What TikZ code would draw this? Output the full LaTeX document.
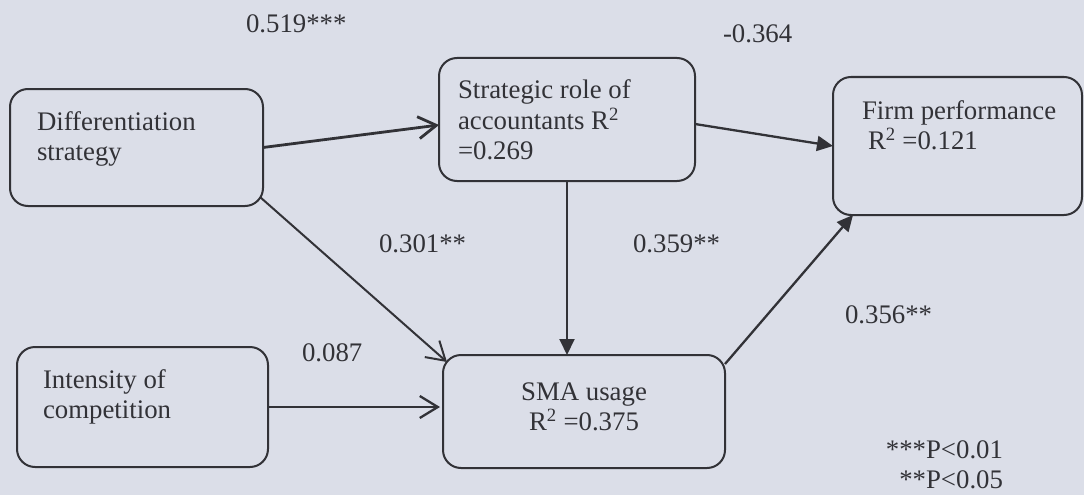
\documentclass[tikz,border=0pt]{standalone}
\usepackage{fontspec}
\setmainfont{Liberation Serif}
\usetikzlibrary{arrows.meta,calc}
\definecolor{bg}{RGB}{219,222,232}
\definecolor{ink}{RGB}{50,50,55}
\begin{document}
\begin{tikzpicture}[x=1pt,y=-1pt,
  box/.style={draw=ink, line width=2pt, rounded corners=18pt, inner sep=0pt, outer sep=0pt},
  txt/.style={text=ink, font=\fontsize{26.8}{30}\selectfont, inner sep=0pt, outer sep=0pt},
  openarr/.style={draw=ink, line width=2.3pt, -{Straight Barb[length=18pt,width=22pt]}},
  fillarr/.style={draw=ink, line width=2.3pt, -{Triangle[length=16pt,width=15pt]}},
]
\fill[bg] (0,0) rectangle (1084,495);
\useasboundingbox (0,0) rectangle (1084,495);

% boxes
\node[box, minimum width=253pt, minimum height=117pt] (diff) at (136.5,147.5) {};
\node[box, minimum width=256pt, minimum height=123pt] (strat) at (567,119.5) {};
\node[box, minimum width=249pt, minimum height=138pt] (firm) at (957.5,146) {};
\node[box, minimum width=251pt, minimum height=120pt] (intens) at (142.5,407) {};
\node[box, minimum width=282pt, minimum height=113pt] (sma) at (584,411.5) {};

% box texts
\node[txt, anchor=base west] (diffT) at (37,130) {\begin{tabular}[t]{@{}l@{}}Differentiation\\strategy\end{tabular}};
\node[txt, anchor=base west] (stratT) at (458,99) {\begin{tabular}[t]{@{}l@{}}Strategic role of\\accountants R\textsuperscript{2}\\=0.269\end{tabular}};
\node[txt, anchor=base west] (firmT) at (862,119) {\begin{tabular}[t]{@{}l@{}}Firm performance\\\hspace{6pt}R\textsuperscript{2} =0.121\end{tabular}};
\node[txt, anchor=base west] (intensT) at (43,388) {\begin{tabular}[t]{@{}l@{}}Intensity of\\competition\end{tabular}};
\node[txt, anchor=base] (smaT) at (584,400) {\begin{tabular}[t]{@{}c@{}}SMA usage\\R\textsuperscript{2} =0.375\end{tabular}};

% coefficient labels
\node[txt, anchor=base west] (l1) at (246,33) {0.519***};
\node[txt, anchor=base west] (l2) at (723,43) {-0.364};
\node[txt, anchor=base west] (l3) at (379,252) {0.301**};
\node[txt, anchor=base west] (l4) at (633,252) {0.359**};
\node[txt, anchor=base west] (l5) at (302,361) {0.087};
\node[txt, anchor=base west] (l6) at (845,323) {0.356**};
\node[txt, anchor=base east] (legend) at (1003,458) {\begin{tabular}[t]{@{}r@{}}***P<0.01\\{}**P<0.05\end{tabular}};

% connectors
\draw[openarr, line width=2.8pt] (diff.east) -- ([yshift=-5.5pt]strat.west);
\draw[fillarr] ([yshift=-4.5pt]strat.east) -- (firm.west);
\draw[fillarr, line width=2pt] (strat.south) -- (strat.south |- sma.north);
\draw[openarr, line width=2pt] ([xshift=-3pt,yshift=9pt]diff.south east) -- ([xshift=4pt,yshift=-7pt]sma.north west);
\draw[openarr, shorten >=3pt] (intens.east) -- (intens.east -| sma.west);
\draw[fillarr] ([yshift=-9pt]sma.north east) -- ([xshift=20pt]firm.south west);
\end{tikzpicture}
\end{document}
